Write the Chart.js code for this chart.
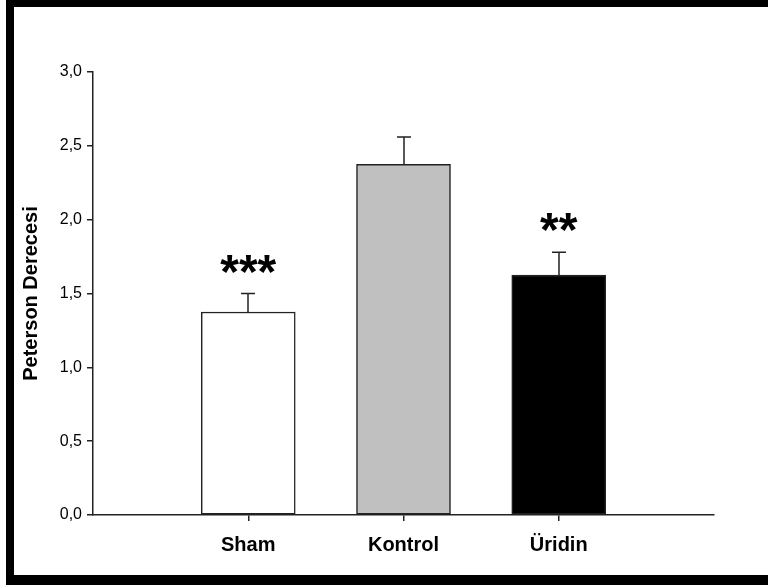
<!DOCTYPE html>
<html>
<head>
<meta charset="utf-8">
<script src="https://cdn.jsdelivr.net/npm/chart.js@4/dist/chart.umd.min.js"></script>
<style>
  html, body { margin: 0; padding: 0; background: #fff; }
  #wrap { position: relative; width: 768px; height: 585px; }
  canvas { display: block; }
</style>
</head>
<body>
<div id="wrap"><canvas id="c" width="768" height="585"></canvas></div>
<script>
// Groups, mean Peterson grade and upper error (SEM) per group
const groups = ['Sham', 'Kontrol', 'Üridin'];
const means = [1.375, 2.375, 1.625];
const errors = [0.125, 0.185, 0.155];
const barColors = ['#ffffff', '#c0c0c0', '#000000'];
const significance = ['***', '', '**'];
const yTicks = [0, 0.5, 1.0, 1.5, 2.0, 2.5, 3.0];
const yTitle = 'Peterson Derecesi';

const FONT = '"Liberation Sans", Arial, sans-serif';

// Upward-only error bars with caps
const errorBars = {
  id: 'errorBars',
  afterDatasetsDraw(chart) {
    const { ctx, scales: { x, y } } = chart;
    ctx.save();
    ctx.strokeStyle = '#222';
    ctx.lineWidth = 1.5;
    means.forEach((m, i) => {
      const px = Math.round(x.getPixelForValue(i + 1));
      const top = y.getPixelForValue(m + errors[i]);
      const base = y.getPixelForValue(m);
      ctx.beginPath();
      ctx.moveTo(px, base);
      ctx.lineTo(px, top);
      ctx.moveTo(px - 7, top);
      ctx.lineTo(px + 7, top);
      ctx.stroke();
    });
    ctx.restore();
  }
};

// Significance stars above the error caps
const stars = {
  id: 'stars',
  afterDatasetsDraw(chart) {
    const { ctx, scales: { x, y } } = chart;
    ctx.save();
    ctx.fillStyle = '#000';
    ctx.font = 'bold 48px ' + FONT;
    ctx.textAlign = 'center';
    ctx.textBaseline = 'alphabetic';
    significance.forEach((s, i) => {
      if (!s) return;
      const px = x.getPixelForValue(i + 1);
      const cy = y.getPixelForValue(means[i] + errors[i]) - 30;
      const m = ctx.measureText(s);
      const off = (m.actualBoundingBoxAscent - m.actualBoundingBoxDescent) / 2;
      ctx.fillText(s, px, cy + off);
    });
    ctx.restore();
  }
};

// Rotated y-axis title and the black frame around the figure
const decorations = {
  id: 'decorations',
  afterDraw(chart) {
    const { ctx, chartArea } = chart;
    ctx.save();
    ctx.fillStyle = '#000';
    ctx.font = 'bold 20px ' + FONT;
    ctx.textAlign = 'center';
    ctx.textBaseline = 'middle';
    ctx.translate(31, (chartArea.top + chartArea.bottom) / 2);
    ctx.rotate(-Math.PI / 2);
    ctx.fillText(yTitle, 0, 0);
    ctx.restore();

    ctx.save();
    ctx.fillStyle = '#000';
    ctx.fillRect(6, 0, 762, 7);
    ctx.fillRect(6, 0, 8, 585);
    ctx.fillRect(6, 575, 762, 10);
    ctx.restore();
  }
};

new Chart(document.getElementById('c'), {
  type: 'bar',
  data: {
    datasets: [{
      data: means.map((v, i) => ({ x: i + 1, y: v })),
      backgroundColor: barColors,
      borderColor: '#222',
      borderWidth: 1.5,
      borderSkipped: false,
      barThickness: 94
    }]
  },
  plugins: [errorBars, stars, decorations],
  options: {
    responsive: false,
    animation: false,
    devicePixelRatio: 1,
    layout: { padding: { left: 0, top: 72, right: 54, bottom: 0 } },
    plugins: { legend: { display: false }, tooltip: { enabled: false } },
    scales: {
      x: {
        type: 'linear',
        min: 0,
        max: 4,
        offset: false,
        afterBuildTicks(scale) {
          scale.ticks = groups.map((g, i) => ({ value: i + 1 }));
        },
        afterFit(scale) { scale.height = 70; },
        grid: { offset: false, drawOnChartArea: false, drawTicks: true, tickLength: 6, color: '#222', lineWidth: 1.5 },
        border: { color: '#222', width: 1.5 },
        ticks: {
          color: '#000',
          padding: 12,
          font: { family: FONT, size: 20, weight: 'bold' },
          callback: (v) => groups[v - 1] ?? ''
        }
      },
      y: {
        min: 0,
        max: 3,
        afterBuildTicks(scale) {
          scale.ticks = yTicks.map(v => ({ value: v }));
        },
        afterFit(scale) { scale.width = 93; },
        grid: { drawOnChartArea: false, drawTicks: true, tickLength: 6, color: '#222', lineWidth: 1.5 },
        border: { color: '#222', width: 1.5 },
        ticks: {
          color: '#000',
          padding: 5,
          font: { family: FONT, size: 16 },
          callback: (v) => v.toFixed(1).replace('.', ',')
        }
      }
    }
  }
});
</script>
</body>
</html>
